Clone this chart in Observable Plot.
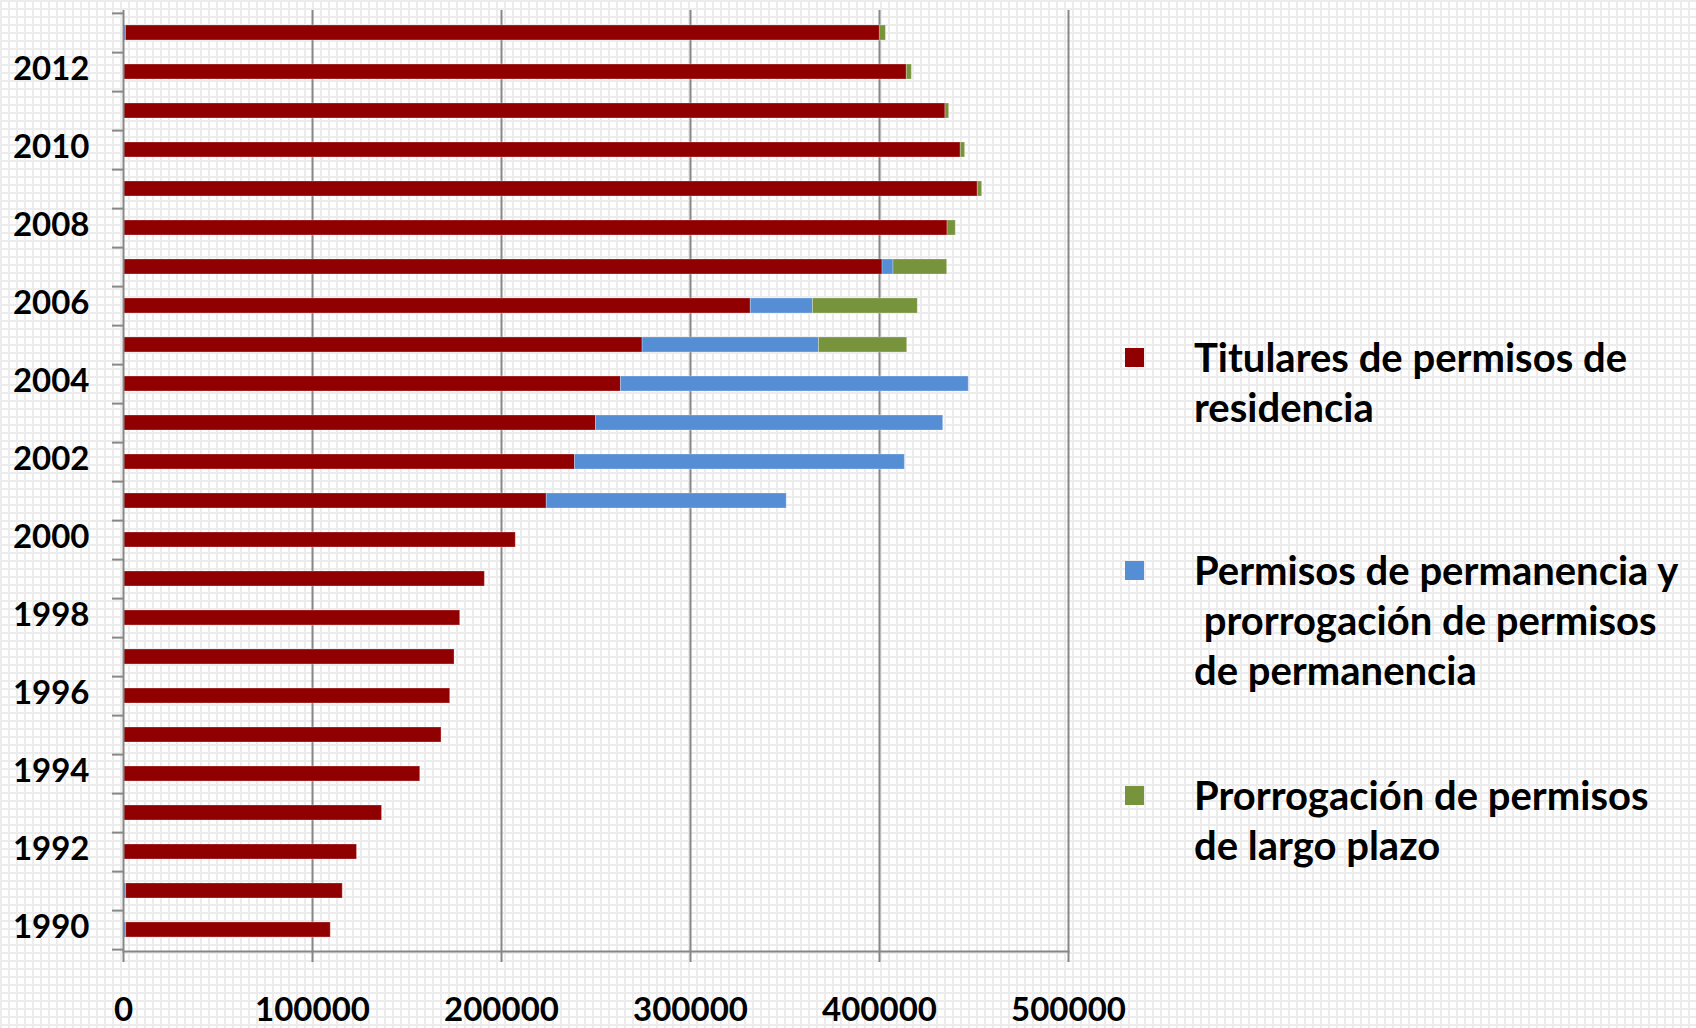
<!DOCTYPE html>
<html>
<head>
<meta charset="utf-8">
<script src="https://cdn.jsdelivr.net/npm/d3@7"></script>
<script src="https://cdn.jsdelivr.net/npm/@observablehq/plot@0.6"></script>
<style>
  html, body { margin: 0; padding: 0; }
  body {
    width: 1696px; height: 1028px; overflow: hidden; position: relative;
    background-color: #ffffff;
    background-image:
      linear-gradient(to right, #ececec 2px, transparent 2px),
      linear-gradient(to bottom, #ececec 2px, transparent 2px);
    background-size: 8px 8px;
    font-family: Lato, "Open Sans", sans-serif;
  }
  #chart { position: absolute; left: 0; top: 0; }
  .legend-item { position: absolute; left: 1125px; display: flex; align-items: flex-start; }
  .swatch { width: 19px; height: 19px; margin-top: 16px; flex: none; }
  .label { margin-left: 50px; font: 700 40px/50px Lato, "Open Sans", sans-serif; color: #000; white-space: pre; }
</style>
</head>
<body>
<div id="chart"></div>
<div id="legend"></div>
<script>
// ---- Data ----
const years = [1990, 1991, 1992, 1993, 1994, 1995, 1996, 1997, 1998, 1999, 2000, 2001,
               2002, 2003, 2004, 2005, 2006, 2007, 2008, 2009, 2010, 2011, 2012, 2013];
const residencia = [108250, 114600, 123550, 136800, 157000, 168250, 172850, 175150, 178150, 191200, 207550, 223950,
                    238900, 250000, 263200, 274650, 331900, 401600, 436000, 452000, 443000, 434900, 414450, 398900];
const permanencia = [1400, 1400, 0, 0, 0, 0, 0, 0, 0, 0, 0, 126950,
                     174500, 183700, 184000, 93350, 32900, 5800, 0, 0, 0, 0, 0, 1300];
const largoPlazo = [0, 0, 0, 0, 0, 0, 0, 0, 0, 0, 0, 0,
                    0, 0, 0, 46650, 55450, 28400, 4350, 2300, 2300, 1950, 2650, 3200];
const seriesNames = ["Titulares de permisos de residencia",
                     "Permisos de permanencia y prorrogación de permisos de permanencia",
                     "Prorrogación de permisos de largo plazo"];
const legendLines = [
  "Titulares de permisos de\nresidencia",
  "Permisos de permanencia y\n prorrogación de permisos\nde permanencia",
  "Prorrogación de permisos\nde largo plazo"
];
const seriesColors = ["#910000", "#558ED5", "#77933C"];
const blueFirstYears = [1990, 1991, 2013];
const xTicks = [0, 100000, 200000, 300000, 400000, 500000];
const yLabelYears = [1990, 1992, 1994, 1996, 1998, 2000, 2002, 2004, 2006, 2008, 2010, 2012];

// ---- Table (stack order per bar follows the picture) ----
const table = [];
years.forEach((yr, i) => {
  const rows = [
    {year: yr, serie: seriesNames[0], value: residencia[i]},
    {year: yr, serie: seriesNames[1], value: permanencia[i]},
    {year: yr, serie: seriesNames[2], value: largoPlazo[i]}
  ];
  if (blueFirstYears.includes(yr)) [rows[0], rows[1]] = [rows[1], rows[0]];
  rows.filter(r => r.value > 0).forEach(r => table.push(r));
});

// ---- Layout ----
const W = 1696, H = 1028;
const mt = 10, mb = 77, ml = 123, mr = 628;
const halfStep = (H - mt - mb) / years.length / 2;
const axisColor = "#878787";
const font = "Lato, 'Open Sans', sans-serif";

const chart = Plot.plot({
  width: W, height: H,
  marginTop: mt, marginBottom: mb, marginLeft: ml, marginRight: mr,
  style: {background: "transparent", fontFamily: font, color: "#000", overflow: "visible"},
  x: {domain: [0, 500000], axis: null, label: null},
  y: {type: "band", domain: years.slice().reverse(), paddingInner: 0.617, paddingOuter: 0.3085, axis: null, label: null},
  color: {domain: seriesNames, range: seriesColors},
  marks: [
    Plot.gridX(xTicks.filter(d => d > 0), {stroke: axisColor, strokeOpacity: 1, strokeWidth: 2}),
    Plot.barX(table, Plot.stackX({x: "value", y: "year", fill: "serie", order: null,
      stroke: "#ffffff", strokeOpacity: 0.28, strokeWidth: 1})),
    Plot.ruleX([0], {stroke: axisColor, strokeWidth: 2}),
    Plot.frame({anchor: "bottom", stroke: axisColor, strokeWidth: 2}),
    Plot.axisX(xTicks, {tickSize: 11, tickPadding: 35, stroke: axisColor, strokeWidth: 2, label: null,
      fontSize: 33, fontWeight: 700, fill: "#000", tickFormat: d => String(d)}),
    Plot.axisY(years, {tickSize: 11, dy: halfStep, tickFormat: () => "", label: null, stroke: axisColor, strokeWidth: 2}),
    Plot.axisY([2013], {tickSize: 11, dy: -halfStep, tickFormat: () => "", label: null, stroke: axisColor, strokeWidth: 2}),
    Plot.axisY(yLabelYears, {tickSize: 0, tickPadding: 34, dy: -3, fontSize: 33, fontWeight: 700, fill: "#000", label: null,
      tickFormat: d => String(d)})
  ]
});
document.getElementById("chart").appendChild(chart);

// ---- Legend ----
const legendTops = [332, 545, 770];
const legend = document.getElementById("legend");
seriesNames.forEach((name, i) => {
  const item = document.createElement("div");
  item.className = "legend-item";
  item.style.top = legendTops[i] + "px";
  const sw = document.createElement("div");
  sw.className = "swatch";
  sw.style.background = seriesColors[i];
  const lb = document.createElement("div");
  lb.className = "label";
  lb.textContent = legendLines[i];
  item.appendChild(sw);
  item.appendChild(lb);
  legend.appendChild(item);
});
</script>
</body>
</html>
